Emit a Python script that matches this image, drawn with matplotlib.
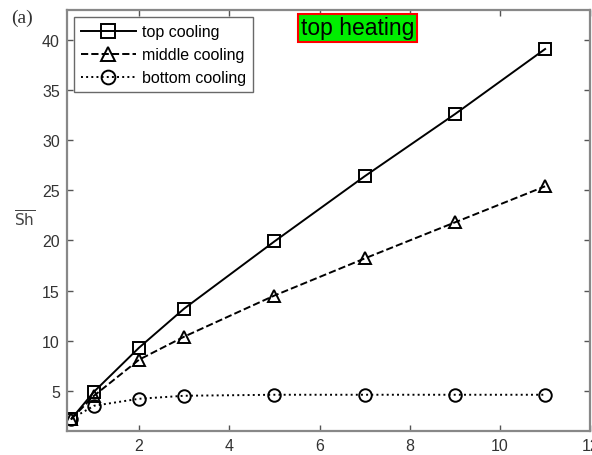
import matplotlib.pyplot as plt
import numpy as np

plt.rcParams['font.family'] = ['Liberation Sans', 'DejaVu Sans']

x = [0.5, 1, 2, 3, 5, 7, 9, 11]
top_cooling = [2.2, 4.9, 9.3, 13.2, 19.9, 26.4, 32.6, 39.1]
middle_cooling = [2.2, 4.5, 8.1, 10.4, 14.5, 18.2, 21.8, 25.4]
bottom_cooling = [2.2, 3.5, 4.2, 4.5, 4.6, 4.6, 4.6, 4.6]

xticks = [2, 4, 6, 8, 10, 12]
yticks = [5, 10, 15, 20, 25, 30, 35, 40]

fig = plt.figure(figsize=(5.92, 4.56), dpi=100)
ax = fig.add_axes([0.113, 0.053, 0.884, 0.923])

style = dict(color='black', markerfacecolor='none', markeredgecolor='black',
             markersize=9, markeredgewidth=1.4, linewidth=1.4)
ax.plot(x, top_cooling, linestyle='-', marker='s', label='top cooling', **style)
ax.plot(x, middle_cooling, linestyle='--', marker='^', label='middle cooling', **style)
ax.plot(x, bottom_cooling, linestyle=':', marker='o', label='bottom cooling', **style)

ax.set_xlim(0.4, 12)
ax.set_ylim(1, 43)
ax.set_xticks(xticks)
ax.set_yticks(yticks)
ax.tick_params(direction='in', top=True, right=True, length=4, width=1,
               labelsize=11.5, colors='#555555', labelcolor='#333333', pad=5)
for s in ax.spines.values():
    s.set_color('#888888')
    s.set_linewidth(1.6)

ax.set_ylabel(r'$\overline{\mathrm{Sh}}$', rotation=0, fontsize=11,
              color='#444444')
ax.yaxis.set_label_coords(-0.08, 0.48)

leg = ax.legend(loc='upper left', fontsize=11.5, frameon=True, fancybox=False,
                edgecolor='#444444', borderaxespad=0.45, handlelength=3.4,
                labelspacing=0.5, borderpad=0.45, handletextpad=0.4,
                markerscale=1.1)
leg.get_frame().set_linewidth(1.0)

ax.text(0.555, 0.985, 'top heating', transform=ax.transAxes, fontsize=16.5,
        ha='center', va='top',
        bbox=dict(boxstyle='square,pad=0.12', facecolor='#00ee00',
                  edgecolor='red', linewidth=1.5))

fig.text(0.018, 0.978, '(a)', fontsize=14, family='Liberation Serif',
         va='top', ha='left', color='#333333')

fig.savefig('out.png', dpi=100)
